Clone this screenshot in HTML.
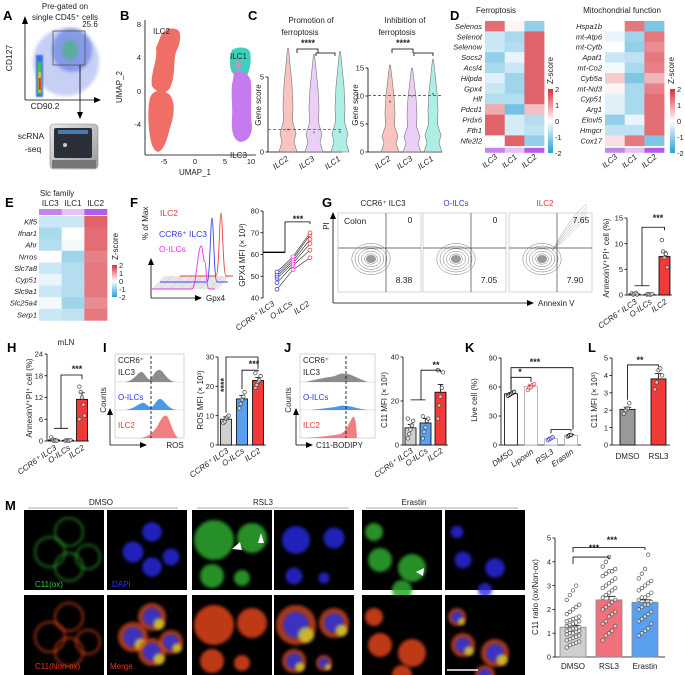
<!DOCTYPE html>
<html><head><meta charset="utf-8">
<style>
html,body{margin:0;padding:0;background:#fff;}
svg{display:block;font-family:"Liberation Sans",sans-serif;}
.lt{font-size:13px;font-weight:bold;}
.t{font-size:7.5px;fill:#222;}
.gi{font-size:7.5px;font-style:italic;fill:#222;}
</style></head>
<body>
<svg id="fig" width="685" height="675" viewBox="0 0 685 675" xmlns="http://www.w3.org/2000/svg">
<defs>
<filter id="blur2" x="-20%" y="-20%" width="140%" height="140%"><feGaussianBlur stdDeviation="1.6"/></filter>
<filter id="blur1" x="-20%" y="-20%" width="140%" height="140%"><feGaussianBlur stdDeviation="0.8"/></filter>
<linearGradient id="zgrad" x1="0" y1="0" x2="0" y2="1">
<stop offset="0" stop-color="#d7303a"/><stop offset="0.5" stop-color="#ffffff"/><stop offset="1" stop-color="#2aa0d4"/>
</linearGradient>
<linearGradient id="machine" x1="0" y1="0" x2="1" y2="1"><stop offset="0" stop-color="#e8e8e8"/><stop offset="1" stop-color="#9a9a9a"/></linearGradient>
</defs>

<g>
<text class="lt" x="3" y="20">A</text>
<text class="t" x="65" y="9" text-anchor="middle" style="font-size:8px">Pre-gated on</text>
<text class="t" x="65" y="20" text-anchor="middle" style="font-size:8px">single CD45⁺ cells</text>
<g>
<ellipse cx="66" cy="62" rx="33" ry="34" fill="#9aa8ee" opacity="0.55" filter="url(#blur2)"/>
<ellipse cx="72" cy="50" rx="20" ry="22" fill="#5a78e0" opacity="0.6" filter="url(#blur2)"/>
<ellipse cx="70" cy="50" rx="8" ry="10" fill="#3fb86a" opacity="0.6" filter="url(#blur2)"/>
<rect x="36" y="55" width="7" height="42" fill="#4070e0" filter="url(#blur1)"/>
<rect x="37.5" y="62" width="4" height="32" fill="#40c060" filter="url(#blur1)"/>
<rect x="38.5" y="72" width="2.5" height="20" fill="#f0d020" filter="url(#blur1)"/>
<rect x="38.8" y="78" width="2" height="12" fill="#e03020"/>
<rect x="53" y="31" width="32" height="34" fill="none" stroke="#555" stroke-width="0.8"/>
<text class="t" x="90" y="27" text-anchor="middle" style="font-size:8px">25.6</text>
<line x1="25" y1="100" x2="25" y2="20" stroke="#000" stroke-width="0.8"/>
<path d="M22,24 L25,16 L28,24Z" fill="#000"/>
<line x1="25" y1="100" x2="97" y2="100" stroke="#000" stroke-width="0.8"/>
<path d="M94,97 L101,100 L94,103Z" fill="#000"/>
<text class="t" x="12" y="58" transform="rotate(-90 12 58)" text-anchor="middle" style="font-size:8.5px">CD127</text>
<text class="t" x="45" y="109" text-anchor="middle" style="font-size:8.5px">CD90.2</text>
<line x1="80" y1="65" x2="80" y2="113" stroke="#000" stroke-width="0.8"/>
<path d="M77,112 L80,119 L83,112Z" fill="#000"/>
</g>
<g>
<rect x="50" y="124" width="48" height="45" rx="4" fill="url(#machine)" stroke="#888" stroke-width="0.6"/>
<rect x="54" y="128" width="38" height="30" rx="2" fill="#2a2f38"/>
<rect x="58" y="130" width="30" height="4" fill="#4a7ab0"/>
<circle cx="65" cy="145" r="2" fill="#ccc"/>
<rect x="52" y="160" width="44" height="8" fill="#777"/>
</g>
<text class="t" x="31" y="139" text-anchor="middle" style="font-size:8.5px">scRNA</text>
<text class="t" x="33" y="152" text-anchor="middle" style="font-size:8.5px">-seq</text>
</g>

<g>
<text class="lt" x="120" y="20">B</text>
<g>
<path d="M160,38 C163,28 172,27 178,30 C182,34 180,45 176,52 C173,62 176,75 170,88 C166,95 156,93 152,86 C150,74 158,60 156,48 Z" fill="#ef6f67"/>
<path d="M150,98 C153,88 165,90 170,95 C176,104 174,116 170,128 C167,140 164,150 158,152 C152,150 150,140 149,128 C148,118 148,106 150,98 Z" fill="#ef6f67"/>
<path d="M232,50 C238,46 248,47 250,52 C252,60 250,70 246,78 C240,80 233,76 231,70 C229,62 230,55 232,50 Z" fill="#3fd0bc"/>
<path d="M234,72 C242,70 250,74 251,82 C252,96 250,112 252,126 C252,136 247,142 240,142 C233,140 231,130 232,118 C233,104 230,90 233,80 Z" fill="#c57af0"/>
<path d="M236,60 L242,62 L240,70 L234,68Z" fill="#d88ab8" opacity="0.7"/>
</g>
<line x1="145" y1="20" x2="145" y2="155" stroke="#000" stroke-width="0.8"/>
<line x1="145" y1="155" x2="256" y2="155" stroke="#000" stroke-width="0.8"/>
<g class="t" text-anchor="end">
<text x="141" y="27">8</text><text x="141" y="60">4</text><text x="141" y="94">0</text><text x="141" y="127">-4</text>
</g>
<g class="t" text-anchor="middle">
<text x="164" y="164">-5</text><text x="195" y="164">0</text><text x="225" y="164">5</text><text x="251" y="164">10</text>
</g>
<text class="t" x="195" y="175" text-anchor="middle" style="font-size:8px">UMAP_1</text>
<text class="t" x="122" y="87" transform="rotate(-90 122 87)" text-anchor="middle" style="font-size:8px">UMAP_2</text>
<text class="t" x="153" y="34" style="font-size:8px">ILC2</text>
<text class="t" x="230" y="59" style="font-size:8px">ILC1</text>
<text class="t" x="230" y="158" style="font-size:8px">ILC3</text>
</g>

<g>
<text class="lt" x="248" y="20">C</text>
<text class="t" x="311" y="23" text-anchor="middle" style="font-size:8px">Promotion of</text>
<text class="t" x="300" y="35" text-anchor="middle" style="font-size:8px">ferroptosis</text>
<text class="t" x="405" y="23" text-anchor="middle" style="font-size:8px">Inhibition of</text>
<text class="t" x="397" y="35" text-anchor="middle" style="font-size:8px">ferroptosis</text>
</g>

<g>
<text class="lt" x="450" y="20">D</text>
<text class="t" x="496" y="13" text-anchor="middle" style="font-size:8px">Ferroptosis</text>
<text class="t" x="622" y="13" text-anchor="middle" style="font-size:8px">Mitochondrial function</text>
</g>

<text class="lt" x="5" y="207">E</text>
<text class="t" x="57" y="196" text-anchor="middle" style="font-size:8px">Slc family</text>
<text class="lt" x="130" y="207">F</text>
<text class="lt" x="322" y="207">G</text>

<g>
<path d="M152,289 L218,289 L230,276 L164,276Z" fill="#e6e6e6"/>
<g stroke="#bbb" stroke-width="0.5">
<line x1="160" y1="289" x2="172" y2="276"/><line x1="170" y1="289" x2="182" y2="276"/><line x1="180" y1="289" x2="192" y2="276"/><line x1="190" y1="289" x2="202" y2="276"/><line x1="200" y1="289" x2="212" y2="276"/><line x1="210" y1="289" x2="222" y2="276"/>
</g>
<path d="M180,276 L216,276 C219,276 219.5,213 221,213 C222.5,213 223,276 226,276 L233,276" fill="none" stroke="#f04040" stroke-width="0.9"/>
<path d="M160,282 L207,282 C210,282 210.5,218 212,218 C213.5,218 214,282 217,282 L228,282" fill="none" stroke="#4040f0" stroke-width="0.9"/>
<path d="M152,289 L192,289 C196,289 198,246 201,246 C203,246 203,262 205,262 C206,262 206.5,289 209,289 L215,289" fill="none" stroke="#f030f0" stroke-width="0.9"/>
<line x1="151" y1="298" x2="151" y2="262" stroke="#000" stroke-width="0.8"/>
<path d="M148,265 L151,258 L154,265Z" fill="#000"/>
<line x1="151" y1="298" x2="198" y2="298" stroke="#000" stroke-width="0.8"/>
<path d="M195,295 L202,298 L195,301Z" fill="#000"/>
<text class="t" x="206" y="301" style="font-size:8px">Gpx4</text>
<text class="t" x="148" y="240" transform="rotate(-90 148 240)" style="font-size:8px">% of Max</text>
<text x="160" y="216" style="font-size:8.5px;fill:#f03030">ILC2</text>
<text x="159" y="237" style="font-size:8.5px;fill:#3030f0">CCR6⁺ ILC3</text>
<text x="159" y="252" style="font-size:8.5px;fill:#f030f0">O-ILCs</text>
</g>

<g>
<text class="t" x="383" y="206" text-anchor="middle" style="font-size:8px">CCR6⁺ ILC3</text>
<text x="456" y="206" text-anchor="middle" style="font-size:8px;fill:#3030f0">O-ILCs</text>
<text x="545" y="206" text-anchor="middle" style="font-size:8px;fill:#f03030">ILC2</text>
<line x1="333" y1="303" x2="333" y2="216" stroke="#000" stroke-width="0.8"/>
<path d="M330,219 L333,212 L336,219Z" fill="#000"/>
<line x1="333" y1="303" x2="530" y2="303" stroke="#000" stroke-width="0.8"/>
<path d="M527,300 L534,303 L527,306Z" fill="#000"/>
<text class="t" x="538" y="306" style="font-size:8px">Annexin V</text>
<text class="t" x="329" y="226" transform="rotate(-90 329 226)" text-anchor="middle" style="font-size:8px">PI</text>
</g>

<text class="lt" x="7" y="352">H</text>
<text class="t" x="66" y="345" text-anchor="middle" style="font-size:8px">mLN</text>
<text class="lt" x="103" y="352">I</text>
<text class="lt" x="284" y="352">J</text>
<text class="lt" x="465" y="352">K</text>
<text class="lt" x="588" y="352">L</text>

<g>
<rect x="115" y="354" width="69" height="84" fill="none" stroke="#bbb" stroke-width="0.6"/>
<line x1="115" y1="382" x2="184" y2="382" stroke="#ccc" stroke-width="0.6"/>
<line x1="115" y1="410" x2="184" y2="410" stroke="#ccc" stroke-width="0.6"/>
<path d="M125,382 C135,381 138,371 142,372 C145,373 147,380 150,379 C153,378 155,369 160,370 C164,371 166,380 175,382Z" fill="#8c8c8c"/>
<path d="M125,410 C135,409 140,402 144,403 C147,404 149,408 152,407 C155,405 157,398 161,399 C164,400 167,408 176,410Z" fill="#4a98ea"/>
<path d="M140,438 C150,437 155,430 158,425 C161,419 164,414 167,416 C170,419 172,432 178,438Z" fill="#f08080"/>
<line x1="151" y1="356" x2="151" y2="438" stroke="#000" stroke-width="0.8" stroke-dasharray="3,2"/>
<text class="t" x="118" y="363" style="font-size:8px">CCR6⁺</text>
<text class="t" x="118" y="375" style="font-size:8px">ILC3</text>
<text x="118" y="400" style="font-size:8px;fill:#3030f0">O-ILCs</text>
<text x="118" y="428" style="font-size:8px;fill:#f03030">ILC2</text>
<line x1="110" y1="445" x2="110" y2="412" stroke="#000" stroke-width="0.8"/>
<path d="M107,415 L110,408 L113,415Z" fill="#000"/>
<line x1="110" y1="445" x2="142" y2="445" stroke="#000" stroke-width="0.8"/>
<path d="M140,442 L147,445 L140,448Z" fill="#000"/>
<text class="t" x="175" y="448" text-anchor="middle" style="font-size:8px">ROS</text>
<text class="t" x="106" y="400" transform="rotate(-90 106 400)" text-anchor="middle" style="font-size:8px">Counts</text>
</g>

<g>
<rect x="300" y="354" width="75" height="84" fill="none" stroke="#bbb" stroke-width="0.6"/>
<line x1="300" y1="382" x2="375" y2="382" stroke="#ccc" stroke-width="0.6"/>
<line x1="300" y1="410" x2="375" y2="410" stroke="#ccc" stroke-width="0.6"/>
<path d="M305,382 C315,380 322,378 330,377 C338,376 340,372 345,374 C350,373 356,378 368,382Z" fill="#8c8c8c"/>
<path d="M310,410 C320,409 328,408 335,407 C340,406 342,405 346,406 C352,406 358,409 368,410Z" fill="#4a98ea"/>
<path d="M305,438 C318,437 330,436 340,434 C346,432 348,425 352,418 C355,414 356,420 357,438Z" fill="#f08080"/>
<line x1="346" y1="356" x2="346" y2="438" stroke="#000" stroke-width="0.8" stroke-dasharray="3,2"/>
<text class="t" x="303" y="363" style="font-size:8px">CCR6⁺</text>
<text class="t" x="303" y="375" style="font-size:8px">ILC3</text>
<text x="303" y="400" style="font-size:8px;fill:#3030f0">O-ILCs</text>
<text x="303" y="428" style="font-size:8px;fill:#f03030">ILC2</text>
<line x1="296" y1="445" x2="296" y2="412" stroke="#000" stroke-width="0.8"/>
<path d="M293,415 L296,408 L299,415Z" fill="#000"/>
<line x1="296" y1="445" x2="308" y2="445" stroke="#000" stroke-width="0.8"/>
<path d="M306,442 L313,445 L306,448Z" fill="#000"/>
<text class="t" x="316" y="448" style="font-size:8px">C11-BODIPY</text>
<text class="t" x="291" y="400" transform="rotate(-90 291 400)" text-anchor="middle" style="font-size:8px">Counts</text>
</g>

<g>
<text class="lt" x="5" y="510">M</text>
<text class="t" x="101" y="505" text-anchor="middle" style="font-size:8px">DMSO</text>
<line x1="28" y1="508" x2="178" y2="508" stroke="#aaa" stroke-width="1"/>
<text class="t" x="263" y="505" text-anchor="middle" style="font-size:8px">RSL3</text>
<line x1="197" y1="508" x2="349" y2="508" stroke="#aaa" stroke-width="1"/>
<text class="t" x="414" y="505" text-anchor="middle" style="font-size:8px">Erastin</text>
<line x1="366" y1="508" x2="518" y2="508" stroke="#aaa" stroke-width="1"/>
<g id="micro"></g>
</g>

<g id="charts"></g>

<script>
const heatCols = ["ILC3","ILC1","ILC2"];
const ferroGenes = ["Selenos","Selenot","Selenow","Socs2","Acsl4","Hilpda","Gpx4","Hlf","Pdcd1","Prdx6","Fth1","Nfe2l2"];
const ferroVals = [[1.4,0.1,-1.0],[-0.5,-0.8,1.5],[-0.5,-0.7,1.5],[-1.0,-0.2,1.5],[-0.8,-0.5,1.5],[-0.3,-0.9,1.5],[-0.5,-0.9,1.5],[-0.7,-0.7,1.5],[0.8,-1.3,0.6],[1.5,-0.4,-0.7],[1.5,-0.4,-0.6],[0.0,1.5,-1.0]];
const mitoGenes = ["Hspa1b","mt-Atp6","mt-Cytb","Apaf1","mt-Co2","Cyb5a","mt-Nd3","Cyp51","Arg1","Elovl5","Hmgcr","Cox17"];
const mitoVals = [[0.0,1.3,-1.2],[-0.2,-0.9,1.3],[0.0,-1.0,1.1],[-0.5,-0.6,1.3],[-0.1,-0.8,1.2],[0.5,-1.2,0.7],[0.1,-0.8,1.2],[-0.3,-0.8,1.4],[-0.3,-0.8,1.4],[-1.0,-0.2,1.4],[-0.6,-0.6,1.4],[0.3,1.3,-1.2]];
const slcGenes = ["Klf5","Ifnar1","Ahr","Nrros","Slc7a8","Cyp51","Slc9a1","Slc25a4","Serp1"];
const slcVals = [[-0.5,-0.5,1.5],[-0.8,0.0,1.4],[-0.7,-0.1,1.4],[0.0,-0.9,1.2],[-0.5,-0.7,1.3],[-0.2,-0.7,1.3],[-0.5,-0.7,1.3],[-0.1,-0.9,1.1],[-0.5,-0.6,1.3]];
const violinCats = ["ILC2","ILC3","ILC1"];
const promoMedian = [1.5,1.3,1.35];
const inhibMedian = [9.0,10.0,10.4];
const cellCats = ["CCR6⁺ ILC3","O-ILCs","ILC2"];
const gpxIlc3 = [44,47,49,50,51,52];
const gpxOilc = [53,55,56,57,58,59];
const gpxIlc2 = [58.5,62,65,67,69,70];
const gMeans = [0.2,0.1,7.5];
const gErr = [0.1,0.1,0.9];
const gPts = [[0.3,0.1,0.2,0.4,0.1],[0.1,0.2,0.1,0.1,0.2],[10.7,8.5,7.3,8.0,5.4]];
const hMeans = [0.3,0.2,11.5];
const hErr = [0.3,0.2,1.8];
const hPts = [[1.0,0.4,0.0,0.2,0.1],[0.1,0.2,0.1,0.1,0.2],[15,13.5,12,10,7,6]];
const iMeans = [8.8,15.7,22];
const iErr = [0.8,1.2,1.0];
const iPts = [[7.5,8,9,9.5,10],[12.5,14,15.5,16.5,18],[19.5,20.5,21.5,22,23.5,24.5]];
const jMeans = [7.8,10,24];
const jErr = [1.5,2,3.5];
const jPts = [[3,5,7,9,11,12],[3,6,8,11,12,13],[12,18,22,26,33,34]];
const kCats = ["DMSO","Lipoxin","RSL3","Erastin"];
const kMeans = [53,60.5,6.5,10];
const kErr = [1,1.5,1,0.8];
const kPts = [[51,52,53,54,55],[57,59,60,62,63],[5,6,7,8],[9,10,10.5]];
const lCats = ["DMSO","RSL3"];
const lMeans = [2.05,3.8];
const lErr = [0.12,0.3];
const lPts = [[1.8,2.0,2.1,2.4],[3.2,3.6,4.3,4.4,4.0]];
const mCats = ["DMSO","RSL3","Erastin"];
const mMeans = [1.25,2.4,2.3];
const mErr = [0.08,0.15,0.1];
const mPtsDmso = [0.4,0.5,0.55,0.6,0.65,0.7,0.75,0.8,0.85,0.9,0.95,1.0,1.0,1.05,1.1,1.1,1.15,1.2,1.2,1.25,1.3,1.35,1.4,1.45,1.5,1.5,1.55,1.6,1.65,1.7,1.8,1.9,2.0,2.1,2.2,2.4,2.6,2.8,3.0];
const mPtsRsl3 = [0.7,0.9,1.0,1.1,1.3,1.4,1.5,1.7,1.8,1.9,2.0,2.1,2.2,2.3,2.4,2.5,2.6,2.7,2.8,2.9,2.9,3.0,3.1,3.2,3.3,3.4,3.5,3.6,3.6,3.7,3.8,4.0,4.2];
const mPtsErastin = [0.9,1.0,1.1,1.2,1.4,1.5,1.6,1.7,1.8,1.9,2.0,2.1,2.2,2.2,2.3,2.4,2.5,2.5,2.6,2.7,2.8,2.9,3.0,3.1,3.2,3.3,3.5,3.7,4.3];

const NS = 'http://www.w3.org/2000/svg';
const root = document.getElementById('charts');
function mk(tag, a, p){const e=document.createElementNS(NS,tag);for(const k in a)e.setAttribute(k,a[k]);(p||root).appendChild(e);return e;}
function tx(s,x,y,a,p){const t=mk('text',Object.assign({x:x,y:y},a||{}),p);t.textContent=s;return t;}
function lin(d0,d1,r0,r1){return v=>r0+(v-d0)*(r1-r0)/(d1-d0);}
function heatColor(v){
  const t=Math.max(-1,Math.min(1,v/2));
  if(t>=0){const r=255-(255-214)*t,g=255-(255-48)*t,b=255-(255-56)*t;return `rgb(${r|0},${g|0},${b|0})`;}
  const s=-t;const r=255-(255-42)*s,g=255-(255-160)*s,b=255-(255-212)*s;return `rgb(${r|0},${g|0},${b|0})`;
}
const stripCols = ["#c584ec","#e4c2f4","#b25ced"];
function heatmap(name,x0,y0,cw,rh,genes,vals,labX,strip){
  const g=mk('g',{});
  
  
  vals.forEach((row,i)=>{
    row.forEach((v,j)=>{
      const r=mk('rect',{x:x0+j*cw,y:y0+i*rh,width:cw+0.3,height:rh+0.3,fill:heatColor(v)},g);
      
      
    });
    const t=tx(genes[i],labX,y0+i*rh+rh/2+2.7,{class:'gi','text-anchor':'end'},g);
    
    
  });
  if(strip){
    heatCols.forEach((c,j)=>{
      mk('rect',{x:x0+j*cw,y:y0+vals.length*rh+2,width:cw+0.3,height:5,fill:stripCols[j]},g);
      const t=tx(c,x0+j*cw+cw/2+3,y0+vals.length*rh+12,{class:'t','text-anchor':'end',transform:`rotate(-40 ${x0+j*cw+cw/2+3} ${y0+vals.length*rh+12})`,style:'font-size:8px;font-style:italic'},g);
      
      
    });
  }
  return g;
}
function colorbar(name,x,y,h,ztx){
  const g=mk('g',{});
  
  
  mk('rect',{x:x,y:y,width:5,height:h,fill:'url(#zgrad)'},g);
  ["2","1","0","-1","-2"].forEach((s,i)=>tx(s,x+7,y+i*h/4+3,{class:'t'},g));
  tx('Z-score',ztx,y-5,{class:'t',transform:`rotate(-90 ${ztx} ${y-5})`,style:'font-size:8px'},g);
}
function yAxis(x,y,ticks,fmt){
  const g=mk('g',{});
  
  
  mk('line',{x1:x,y1:y(ticks[0]),x2:x,y2:y(ticks[ticks.length-1]),stroke:'#000','stroke-width':0.8},g);
  ticks.forEach(t=>{mk('line',{x1:x-2.5,y1:y(t),x2:x,y2:y(t),stroke:'#000','stroke-width':0.8},g);tx(fmt?fmt(t):t,x-4,y(t)+2.7,{class:'t','text-anchor':'end'},g);});
  return g;
}
function yTitle(s,x,yc){const t=tx(s,x,yc,{class:'t','text-anchor':'middle',transform:`rotate(-90 ${x} ${yc})`,style:'font-size:8px'});}
function xLabels(cats,xs,y0,rot){
  cats.forEach((c,i)=>{
    const a=rot?{class:'t','text-anchor':'end',transform:`rotate(-35 ${xs[i]+3} ${y0})`,style:'font-size:8px;font-style:italic'}:{class:'t','text-anchor':'middle',style:'font-size:8px'};
    const t=tx(c,xs[i]+3,y0,a);
    
    
  });
}
function bars(x0,y,means,errs,pts,fills,strokes,ptCols,w,step,xAxisEnd){
  const xs=means.map((m,i)=>x0+step*(i+0.5));
  mk('line',{x1:x0,y1:y(0),x2:xAxisEnd||x0+step*means.length,y2:y(0),stroke:'#000','stroke-width':0.8});
  means.forEach((m,i)=>{
    const r=mk('rect',{x:xs[i]-w/2,y:Math.min(y(m),y(0)),width:w,height:Math.abs(y(0)-y(m)),fill:fills[i],stroke:strokes[i],'stroke-width':0.8});
    
    
    mk('line',{x1:xs[i],y1:y(m),x2:xs[i],y2:y(m+errs[i]),stroke:'#000','stroke-width':0.8});
    mk('line',{x1:xs[i]-w/4,y1:y(m+errs[i]),x2:xs[i]+w/4,y2:y(m+errs[i]),stroke:'#000','stroke-width':0.8});
    pts[i].forEach((p,k)=>{
      const off=((k%5)-2)*w*0.12;
      const c=mk('circle',{cx:xs[i]+off,cy:y(p),r:1.8,fill:'#fff','fill-opacity':0.6,stroke:ptCols[i],'stroke-width':0.7});
      
      
    });
  });
  return xs;
}
function star(s,x,y){const t=tx(s,x,y,{class:'t','text-anchor':'middle',style:'font-size:9px;font-weight:bold'});}
function path(d,a){return mk('path',Object.assign({d:d,fill:'none',stroke:'#000','stroke-width':0.8},a||{}));}

function violins(x0,y,cats,meds,fills,ticks,yMax,dash,vx){
  yAxis(x0,y,ticks);
  mk('line',{x1:x0,y1:y(0),x2:x0+74,y2:y(0),stroke:'#000','stroke-width':0.8});
  cats.forEach((c,i)=>{
    const cx=vx[i];
    const top=y(yMax[i]),bot=y(0);
    const wN=[0.5,2,4,5,4.5,8,6,9];
    const frac=[0,0.15,0.35,0.55,0.7,0.82,0.9,1];
    let left='',right='';
    frac.forEach((f,k)=>{const yy=top+(bot-top)*f;left+=`${k?'L':'M'}${cx-wN[k]},${yy} `;right=`L${cx+wN[k]},${yy} `+right;});
    const p=mk('path',{d:left+right+'Z',fill:fills[i],'fill-opacity':0.5,stroke:'#777','stroke-width':0.6});
    
    
    mk('circle',{cx:cx,cy:y(meds[i]),r:1,fill:['#e04040','#40c040','#4080e0'][i]});
  });
  mk('line',{x1:x0,y1:y(dash),x2:x0+74,y2:y(dash),stroke:'#555','stroke-width':0.8,'stroke-dasharray':'3,2'});
  xLabels(cats,vx.map(v=>v-2),y(0)+8,true);
}
const vFills=['#f28a84','#d9a0f2','#5ee0cc'];
const yC1=lin(0,5,152,77);
violins(268,yC1,violinCats,promoMedian,vFills,[0,5],[6.9,6.5,6.7],1.5,[288,314,340]);
yTitle('Gene score',261,105);
path('M297,53 L297,49 L318,49 L318,53');path('M316,56 L316,53 L335,53 L335,56');star('****',308,46);
const yC2=lin(0,15,152,68);
violins(368,yC2,violinCats,inhibMedian,vFills,[0,5,10,15],[15.5,15,16.5],10.1,[390,412,433]);
yTitle('Gene score',358,105);
path('M392,53 L392,49 L413,49 L413,53');path('M414,56 L414,53 L433,53 L433,56');star('****',403,46);

heatmap('ferroptosis-heatmap',485,21,19.7,10.4,ferroGenes,ferroVals,482,true);
colorbar('ferro-colorbar',548,89,64,553);
heatmap('mito-heatmap',605,21,19.7,10.4,mitoGenes,mitoVals,602,true);
colorbar('mito-colorbar',670,89,64,674);
(function(){
  const g=heatmap('slc-heatmap',39,216,22.7,11.6,slcGenes,slcVals,37,false);
  heatCols.forEach((c,j)=>{mk('rect',{x:39+j*22.7,y:209,width:23,height:6,fill:stripCols[j]},g);tx(c,39+j*22.7+11.3,206,{class:'t','text-anchor':'middle',style:'font-size:8px'},g);});
})();
colorbar('slc-colorbar',112,265,32,118);

const yF=lin(40,80,298,211);
yAxis(263,yF,[40,50,60,70,80]);
yTitle('GPX4 MFI (× 10³)',245,255);
const fxs=[277,293,310];
gpxIlc3.forEach((v,i)=>{
  const l=mk('polyline',{points:`${fxs[0]},${yF(v)} ${fxs[1]},${yF(gpxOilc[i])} ${fxs[2]},${yF(gpxIlc2[i])}`,fill:'none',stroke:'#222','stroke-width':0.6});
  
  
});
[[gpxIlc3,'#4040f0'],[gpxOilc,'#f040f0'],[gpxIlc2,'#f04040']].forEach((s,j)=>s[0].forEach(v=>{
  const c=mk('circle',{cx:fxs[j],cy:yF(v),r:1.9,fill:'#fff',stroke:s[1],'stroke-width':0.8});
  
  
}));
path(`M263,${yF(61)} L285,${yF(61)}`,{'stroke-width':1.4});
path(`M285,${yF(61)} L285,${yF(75)} L310,${yF(75)} L310,${yF(74)}`);
star('***',298,222);
xLabels(cellCats,[272,290,307],305,true);

[[338,'8.38','0',''],[423,'7.05','0',''],[509,'7.90','7.65','x']].forEach((p,i)=>{
  const g=mk('g',{});
  
  
  mk('rect',{x:p[0],y:213,width:83,height:79,fill:'#fff',stroke:'#bbb','stroke-width':0.6},g);
  const cx=p[0]+33,cy=259;
  for(let k=6;k>0;k--)mk('ellipse',{cx:cx,cy:cy,rx:k*3.2,ry:k*2.6,fill:'none',stroke:'#777','stroke-width':0.5},g);
  mk('ellipse',{cx:cx,cy:cy,rx:5,ry:4,fill:'#999'},g);
  if(p[3]){for(let k=1;k<6;k++)mk('path',{d:`M${cx+10},${cy-8} Q${cx+30},${cy-20-k*5} ${cx+45},${cy-40-k*3}`,fill:'none',stroke:'#aaa','stroke-width':0.5},g);}
  mk('line',{x1:p[0]+48,y1:213,x2:p[0]+48,y2:292,stroke:'#444','stroke-width':0.7},g);
  mk('line',{x1:p[0],y1:248,x2:p[0]+83,y2:248,stroke:'#444','stroke-width':0.7},g);
  tx(p[2],p[0]+72,223,{class:'t','text-anchor':'middle',style:'font-size:8.5px'},g);
  tx(p[1],p[0]+66,283,{class:'t','text-anchor':'middle',style:'font-size:8.5px'},g);
  if(i===0)tx('Colon',p[0]+6,224,{class:'t',style:'font-size:8.5px'},g);
});

const yG=lin(0,15,295,218);
yAxis(627,yG,[0,5,10,15]);
yTitle('AnnexinV⁺PI⁺ cell (%)',609,258);
const gxs=bars(627,yG,gMeans,gErr,gPts,['#888','#888','#f03a3a'],['#000','#000','#000'],['#444','#444','#444'],11,15);
path(`M${gxs[0]},${yG(1.8)} L${gxs[1]},${yG(1.8)} M${(gxs[0]+gxs[1])/2},${yG(1.8)} L${(gxs[0]+gxs[1])/2},${yG(13.2)} L${gxs[2]},${yG(13.2)} L${gxs[2]},${yG(12.6)}`);
star('***',658,221);
xLabels(cellCats,gxs,303,true);

const yH=lin(0,24,441,354);
yAxis(47,yH,[0,6,12,18,24]);
yTitle('AnnexinV⁺PI⁺ cell (%)',32,398);
const hxs=bars(47,yH,hMeans,hErr,hPts,['#888','#888','#f03a3a'],['#000','#000','#000'],['#444','#444','#444'],11,14);
path(`M${hxs[0]},${yH(3.5)} L${hxs[1]},${yH(3.5)} M${(hxs[0]+hxs[1])/2},${yH(3.5)} L${(hxs[0]+hxs[1])/2},${yH(18.2)} L${hxs[2]},${yH(18.2)} L${hxs[2]},${yH(17)}`);
star('***',77,372);
xLabels(cellCats,hxs,449,true);

const yI=lin(0,30,445,357);
yAxis(218,yI,[0,10,20,30]);
yTitle('ROS MFI (× 10³)',203,400);
const ixs=bars(218,yI,iMeans,iErr,iPts,['#cfcfcf','#5a9ff0','#f03a3a'],['#000','#000','#000'],['#444','#444','#444'],11,16);
path(`M${ixs[0]},${yI(11)} L${ixs[0]},${yI(30)} L${ixs[2]},${yI(30)} L${ixs[2]},${yI(26)}`);
path(`M${ixs[1]},${yI(19)} L${ixs[1]},${yI(25.5)} L${ixs[2]},${yI(25.5)} L${ixs[2]},${yI(25)}`);
star('***',254,367);
(function(){const t=tx('****',227,385,{class:'t','text-anchor':'middle',transform:'rotate(-90 227 385)',style:'font-size:9px;font-weight:bold'});})();
xLabels(cellCats,ixs,452,true);

const yJ=lin(0,40,445,357);
yAxis(403,yJ,[0,20,40]);
yTitle('C11 MFI (× 10³)',387,400);
const jxs=bars(403,yJ,jMeans,jErr,jPts,['#cfcfcf','#5a9ff0','#f03a3a'],['#000','#000','#000'],['#444','#444','#444'],11,15);
path(`M${jxs[0]},${yJ(20.5)} L${jxs[1]},${yJ(20.5)} M${(jxs[0]+jxs[1])/2+3},${yJ(20.5)} L${(jxs[0]+jxs[1])/2+3},${yJ(34)} L${jxs[2]},${yJ(34)} L${jxs[2]},${yJ(33)}`);
star('**',436,368);
xLabels(cellCats,jxs,452,true);

const yK=lin(0,90,445,358);
yAxis(501,yK,[0,30,60,90]);
yTitle('Live cell (%)',477,400);
const kxs=bars(501,yK,kMeans,kErr,kPts,['#fff','#fff','#fff','#fff'],['#000','#aaa','#aaa','#aaa'],['#000','#f03030','#3030f0','#000'],13,20);
path(`M${kxs[0]},${yK(56)} L${kxs[0]},${yK(80)} L${kxs[3]+2},${yK(80)} L${kxs[3]+2},${yK(16)}`);
path(`M${kxs[2]},${yK(12)} L${kxs[2]},${yK(16)} L${kxs[3]},${yK(16)} L${kxs[3]},${yK(14)}`);
path(`M${kxs[0]},${yK(57)} L${kxs[0]},${yK(70)} L${kxs[1]},${yK(70)} L${kxs[1]},${yK(65)}`);
star('***',535,365);star('*',520,375);
xLabels(kCats,kxs,453,true);

const yL=lin(0,5,445,358);
yAxis(612,yL,[0,1,2,3,4,5]);
yTitle('C11 MFI (× 10³)',597,400);
const lxs=bars(612,yL,lMeans,lErr,lPts,['#999','#f03a3a'],['#000','#000'],['#444','#444'],15,31,670);
path(`M${lxs[0]},${yL(2.6)} L${lxs[0]},${yL(4.6)} L${lxs[1]},${yL(4.6)} L${lxs[1]},${yL(4.5)}`);
star('**',640,363);
xLabels(lCats,lxs.map(v=>v-3),459,false);

const yM=lin(0,5,657,538);
yAxis(555,yM,[0,1,2,3,4,5]);
yTitle('C11 ratio (ox/Non-ox)',538,597);
const mxs=bars(555,yM,mMeans,mErr,[mPtsDmso,mPtsRsl3,mPtsErastin],['#cfcfcf','#f0707c','#5aa0f0'],['#888','#888','#888'],['#555','#555','#555'],26,36,665);
path(`M${mxs[0]},${yM(3.9)} L${mxs[0]},${yM(4.2)} L${mxs[1]},${yM(4.2)} L${mxs[1]},${yM(4.1)}`);
path(`M${mxs[0]},${yM(4.4)} L${mxs[0]},${yM(4.6)} L${mxs[2]},${yM(4.6)} L${mxs[2]},${yM(4.5)}`);
star('***',594,551);star('***',612,543);
xLabels(mCats,mxs.map(v=>v-3),669,false);

(function(){
  const mg=document.getElementById('micro');
  const px=[24,107,192,274,362,445], py=[510,595];
  function panel(x,y,name){const r=mk('rect',{x:x,y:y,width:80,height:80,fill:'#000'},mg);}
  function blob(x,y,r,col,op,ring){mk('circle',{cx:x,cy:y,r:r,fill:ring?'none':col,stroke:col,'stroke-width':ring?2.5:0,opacity:op,filter:'url(#blur2)'},mg);}
  const names=[['c11-ox-dmso','dapi-dmso','c11-ox-rsl3','dapi-rsl3','c11-ox-erastin','dapi-erastin'],['c11-nonox-dmso','merge-dmso','c11-nonox-rsl3','merge-rsl3','c11-nonox-erastin','merge-erastin']];
  const dm=[[45,22,14],[26,42,15],[45,57,14],[64,47,12]];
  const rs=[[22,30,20],[60,28,15],[20,66,12],[50,68,8]];
  const er=[[12,22,9],[18,50,12],[50,58,14],[40,80,10]];
  for(let r=0;r<2;r++)for(let c=0;c<6;c++){
    const x=px[c],y=py[r];panel(x,y,names[r][c]);
    const set=c<2?dm:c<4?rs:er;
    const isNuc=(c%2===1&&r===0), isMerge=(c%2===1&&r===1);
    set.forEach(s=>{
      if(isNuc){blob(x+s[0],y+s[1],s[2]*0.7,'#2a2ae8',0.8,false);}
      else if(isMerge){blob(x+s[0],y+s[1],s[2],'#d04a20',0.8,false);blob(x+s[0],y+s[1],s[2]*0.65,'#3030d0',0.9,false);blob(x+s[0]+s[2]*0.5,y+s[1]+s[2]*0.5,s[2]*0.4,'#e8e820',0.7,false);}
      else if(r===0){blob(x+s[0],y+s[1],s[2],'#2fa82f',c===0?0.55:0.85,c===0);}
      else {blob(x+s[0],y+s[1],s[2],'#e0441c',c===0?0.6:0.85,c===0);}
    });
  }
  function lab(s,x,y,col){const t=tx(s,x,y,{style:`font-size:8px;fill:${col}`},mg);}
  lab('C11(ox)',35,587,'#30d030');lab('DAPI',112,587,'#3030ff');lab('C11(Non-ox)',35,669,'#f03020');lab('Merge',110,669,'#f03020');
  mk('line',{x1:447,y1:670,x2:478,y2:670,stroke:'#fff','stroke-width':1.5},mg);
  mk('path',{d:'M232,549 L240,542 L242,550Z',fill:'#fff'},mg);mk('path',{d:'M258,543 L261,533 L264,543Z',fill:'#fff'},mg);mk('path',{d:'M416,572 L424,568 L423,576Z',fill:'#fff'},mg);
})();
</script>
</svg>
</body></html>
